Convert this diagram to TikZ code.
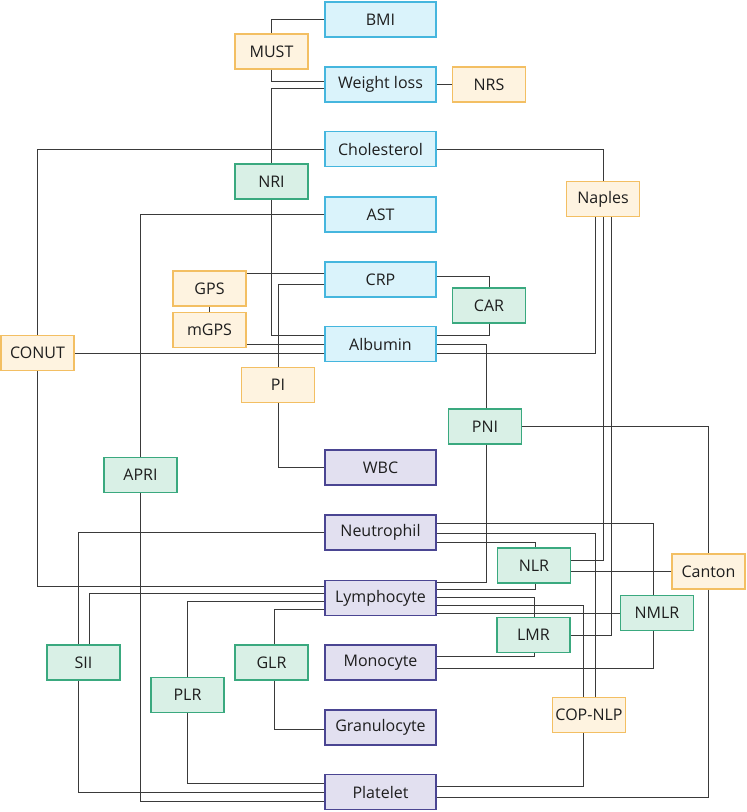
\documentclass[tikz,border=0pt]{standalone}
\usepackage{fontspec}
\setmainfont{Open Sans}
\usetikzlibrary{calc}
\definecolor{bfill}{HTML}{DAF3FB}\definecolor{bdraw}{HTML}{45B6DE}
\definecolor{ofill}{HTML}{FEF3E0}\definecolor{odraw}{HTML}{F3BF63}
\definecolor{gfill}{HTML}{D9F0E6}\definecolor{gdraw}{HTML}{3AA97F}
\definecolor{pfill}{HTML}{E2E0F0}\definecolor{pdraw}{HTML}{4A4592}
\definecolor{wire}{HTML}{3A3A3A}
\definecolor{txt}{HTML}{1E1E1E}
\tikzset{
  box/.style={rectangle, line width=1.2pt, inner sep=0pt, minimum height=35pt, text=txt,
    font=\fontsize{16}{19}\selectfont},
  wide/.style={box, minimum width=111pt},
  narrow/.style={box, minimum width=73pt},
  bluebox/.style={wide, fill=bfill, draw=bdraw},
  purpbox/.style={wide, fill=pfill, draw=pdraw},
  orabox/.style={narrow, fill=ofill, draw=odraw},
  grnbox/.style={narrow, fill=gfill, draw=gdraw},
  wireline/.style={draw=wire, line width=1pt}
}
\begin{document}
\begin{tikzpicture}[x=1pt,y=-1pt]
\useasboundingbox[fill=white] (0,0) rectangle (747,812);
% blue
\node[bluebox] (BMI) at (380.5,19.5) {BMI};
\node[bluebox] (WL) at (380.5,84.5) {Weight loss};
\node[bluebox] (Chol) at (380.5,149) {Cholesterol};
\node[bluebox] (AST) at (380.5,214.5) {AST};
\node[bluebox] (CRP) at (380.5,279.5) {CRP};
\node[bluebox] (Alb) at (380.5,344) {Albumin};
% purple
\node[purpbox] (WBC) at (380.5,467.5) {WBC};
\node[purpbox] (Neut) at (380.5,532.5) {Neutrophil};
\node[purpbox] (Lymph) at (380.5,598) {Lymphocyte};
\node[purpbox] (Mono) at (380.5,662.5) {Monocyte};
\node[purpbox] (Gran) at (380.5,727.5) {Granulocyte};
\node[purpbox] (Plat) at (380.5,792) {Platelet};
% orange
\node[orabox] (MUST) at (271.5,51.5) {MUST};
\node[orabox] (NRS) at (489,84.5) {NRS};
\node[orabox] (Naples) at (603,199) {Naples};
\node[orabox] (GPS) at (209.5,288.5) {GPS};
\node[orabox] (mGPS) at (209.5,330) {mGPS};
\node[orabox] (CONUT) at (37.5,353) {CONUT};
\node[orabox] (PI) at (278,385) {PI};
\node[orabox] (Canton) at (708.5,571.5) {Canton};
\node[orabox] (COPNLP) at (589,715) {COP-NLP};
% green
\node[grnbox] (NRI) at (271.5,181.5) {NRI};
\node[grnbox] (CAR) at (489,305.5) {CAR};
\node[grnbox] (PNI) at (485,426.5) {PNI};
\node[grnbox] (APRI) at (140.5,475) {APRI};
\node[grnbox] (NLR) at (534,565.5) {NLR};
\node[grnbox] (NMLR) at (657,613) {NMLR};
\node[grnbox] (LMR) at (533.5,635) {LMR};
\node[grnbox] (SII) at (83.5,662.5) {SII};
\node[grnbox] (GLR) at (271.5,662.5) {GLR};
\node[grnbox] (PLR) at (187.5,695) {PLR};

% connectors
\begin{scope}[wireline]
\draw (BMI.west) -| (MUST.north);
\draw (MUST.south) |- ($(WL.west)+(0,-3.5)$);
\draw ($(WL.west)+(0,3.5)$) -| (NRI.north);
\draw (NRI.south) |- ($(Alb.west)+(0,-9)$);
\draw (WL.east) -- (NRS.west);
\draw (Chol.west) -| (CONUT.north);
\coordinate (cA) at ($(Alb.west)+(0,9)$);
\draw (cA) -- (cA -| CONUT.east);
\draw (CONUT.south) |- ($(Lymph.west)+(0,-12)$);
\draw (Chol.east) -| (Naples.north);
\draw ($(Naples.south)+(-8,0)$) |- ($(Alb.east)+(0,9)$);
\draw (Naples.south) |- ($(NLR.east)+(0,-5.5)$);
\draw ($(Naples.south)+(8,0)$) |- (LMR.east);
\draw (AST.west) -| (APRI.north);
\draw (APRI.south) |- ($(Plat.west)+(0,9)$);
\coordinate (cG) at ($(CRP.west)+(0,-6)$);
\draw (cG) -- (cG -| GPS.east);
\draw (GPS.south) -- (mGPS.north);
\draw (Alb.west) -- (Alb.west -| mGPS.east);
\draw ($(CRP.west)+(0,4.5)$) -| (PI.north);
\draw (PI.south) |- (WBC.west);
\draw ($(CRP.east)+(0,-3.5)$) -| (CAR.north);
\draw (CAR.south) |- ($(Alb.east)+(0,-9)$);
\draw (Alb.east) -| ($(PNI.north)+(1,0)$);
\draw ($(PNI.south)+(1,0)$) |- ($(Lymph.east)+(0,-16)$);
\draw (PNI.east) -| (Canton.north);
\draw (Canton.south) |- ($(Plat.east)+(0,5)$);
\draw (Canton.west) -- (Canton.west -| NLR.east);
\draw ($(Neut.east)+(0,-9.5)$) -| ($(NMLR.north)+(-3.5,0)$);
\draw ($(Neut.east)+(0,0.5)$) -| ($(COPNLP.north)+(6,0)$);
\draw ($(Neut.east)+(0,9.5)$) -| ($(NLR.north)+(1,0)$);
\draw ($(Lymph.east)+(0,-9)$) -| ($(NLR.south)+(1,0)$);
\draw ($(Lymph.east)+(0,-1)$) -| ($(LMR.north)+(1,0)$);
\draw ($(Lymph.east)+(0,7)$) -| ($(COPNLP.north)+(-6,0)$);
\draw (NMLR.west) -- (NMLR.west -| Lymph.east);
\draw ($(Mono.east)+(0,-6.5)$) -| ($(LMR.south)+(1,0)$);
\draw ($(Mono.east)+(0,5.5)$) -| ($(NMLR.south)+(-3.5,0)$);
\draw ($(Plat.east)+(0,-6)$) -| ($(COPNLP.south)+(-6,0)$);
\draw ($(Lymph.west)+(0,-4.7)$) -| ($(SII.north)+(5.8,0)$);
\draw (Neut.west) -| ($(SII.north)+(-5.2,0)$);
\draw ($(Lymph.west)+(0,3)$) -| (PLR.north);
\draw ($(Lymph.west)+(0,11)$) -| ($(GLR.north)+(2.8,0)$);
\draw ($(GLR.south)+(2.8,0)$) |- ($(Gran.west)+(0,1.5)$);
\draw ($(SII.south)+(-5.2,0)$) |- (Plat.west);
\draw (PLR.south) |- ($(Plat.west)+(0,-9)$);
\end{scope}
\end{tikzpicture}
\end{document}
